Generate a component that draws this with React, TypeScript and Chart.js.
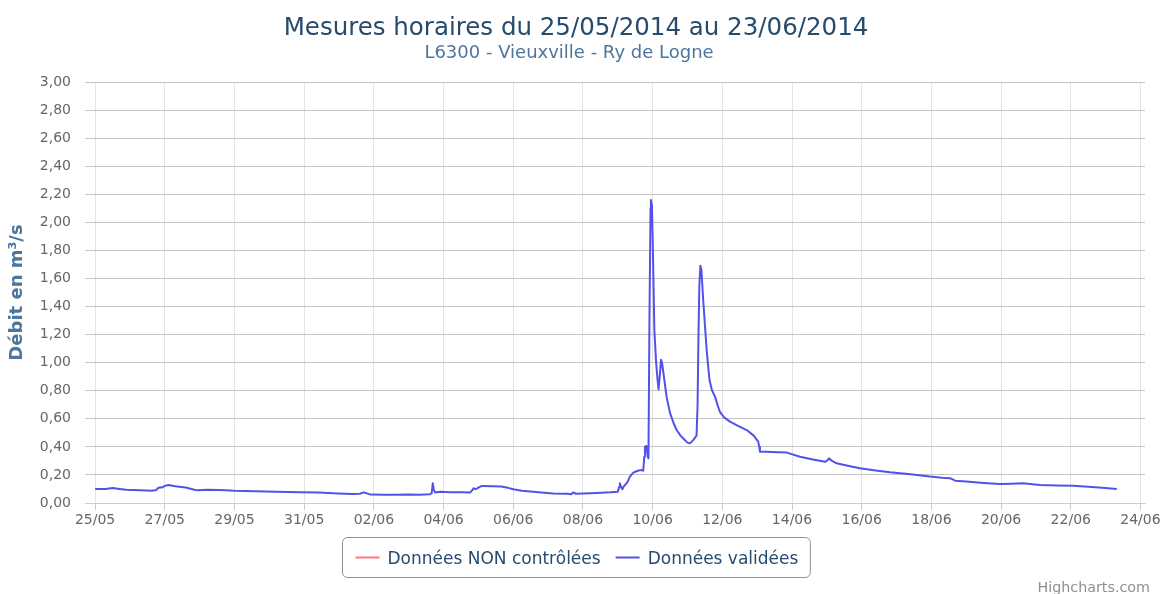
import React, { useEffect, useRef } from 'react';
import { Chart, registerables } from 'chart.js';

Chart.register(...registerables);

const FONT = '"DejaVu Sans", Verdana, sans-serif';

const TITLE = 'Mesures horaires du 25/05/2014 au 23/06/2014';
const SUBTITLE = 'L6300 - Vieuxville - Ry de Logne';
const Y_TITLE = 'Débit en m³/s';
const CREDIT = 'Highcharts.com';

const SERIES_NAMES = ['Données NON contrôlées', 'Données validées'];
const SERIES_COLORS = ['#ff7a7a', '#5252ea'];

// x tick positions (days since 25/05/2014 00:00) and their labels
const X_TICK_DAYS = [0, 2, 4, 6, 8, 10, 12, 14, 16, 18, 20, 22, 24, 26, 28, 30];
const X_TICK_LABELS = [
  '25/05', '27/05', '29/05', '31/05', '02/06', '04/06', '06/06', '08/06',
  '10/06', '12/06', '14/06', '16/06', '18/06', '20/06', '22/06', '24/06',
];

// "Données NON contrôlées": no values visible in the period
const nonControleTimes: number[] = [];
const nonControleValues: number[] = [];

// "Données validées": time in days since 25/05/2014 00:00, debit in m3/s
const valideTimes = [
  0.0, 0.3, 0.5, 0.7, 0.9, 1.3, 1.63, 1.75, 1.8, 1.86, 1.92, 2.0, 2.1, 2.3, 2.6, 2.85, 2.95,
  3.2, 3.6, 4.0, 4.6, 5.2, 5.9, 6.4, 6.97, 7.4, 7.6, 7.7, 7.78, 7.9, 8.3,
  8.6, 9.0, 9.3, 9.6, 9.66, 9.69, 9.72, 9.76, 9.9, 10.2, 10.5, 10.76, 10.82, 10.86, 10.92,
  11.0, 11.1, 11.4, 11.65, 11.85, 12.0, 12.25, 12.5, 12.8, 13.14, 13.55, 13.66, 13.72, 13.8,
  14.0, 14.4, 14.78, 15.0, 15.04, 15.06, 15.1, 15.13, 15.17, 15.21, 15.28, 15.35, 15.42,
  15.5, 15.6, 15.69, 15.73, 15.76, 15.78, 15.81, 15.83, 15.86, 15.88, 15.91, 15.94, 15.95,
  15.98, 16.0, 16.05, 16.1, 16.14, 16.17, 16.21, 16.24, 16.27, 16.31, 16.4, 16.5, 16.6,
  16.69, 16.8, 16.88, 17.0, 17.07, 17.17, 17.26, 17.29, 17.31, 17.34, 17.37, 17.4, 17.45,
  17.55, 17.63, 17.7, 17.79, 17.86, 17.93, 18.05, 18.22, 18.45, 18.7, 18.9, 19.03, 19.06,
  19.08, 19.27, 19.6, 19.85, 20.23, 20.6, 20.95, 21.0, 21.06, 21.15, 21.28, 21.6, 21.95,
  22.4, 22.81, 23.4, 23.96, 24.3, 24.53, 24.6, 24.68, 25.0, 25.5, 25.97, 26.3, 26.64,
  26.9, 27.12, 27.6, 28.07, 28.5, 28.9, 29.32,
];
const valideValues = [
  0.1, 0.1, 0.107, 0.1, 0.094, 0.09, 0.087, 0.092, 0.105, 0.112, 0.11, 0.122, 0.128, 0.12, 0.11, 0.095, 0.09,
  0.095, 0.092, 0.087, 0.084, 0.08, 0.077, 0.074, 0.068, 0.065, 0.066, 0.076, 0.07, 0.06, 0.059,
  0.058, 0.06, 0.059, 0.062, 0.07, 0.14, 0.095, 0.075, 0.08, 0.077, 0.076, 0.074, 0.09, 0.105, 0.098,
  0.11, 0.122, 0.12, 0.117, 0.108, 0.098, 0.088, 0.082, 0.075, 0.068, 0.066, 0.062, 0.075, 0.066,
  0.068, 0.072, 0.076, 0.08, 0.115, 0.14, 0.11, 0.098, 0.118, 0.128, 0.15, 0.188, 0.21,
  0.223, 0.232, 0.235, 0.23, 0.33, 0.4, 0.405, 0.39, 0.33, 0.318, 1.35, 2.1, 2.16,
  2.12, 1.9, 1.23, 1.0, 0.88, 0.81, 0.92, 1.02, 1.0, 0.925, 0.758, 0.64, 0.57,
  0.52, 0.48, 0.46, 0.43, 0.425, 0.45, 0.48, 0.7, 1.1, 1.55, 1.69, 1.66, 1.45,
  1.09, 0.88, 0.805, 0.758, 0.7, 0.65, 0.61, 0.58, 0.55, 0.52, 0.48, 0.437, 0.4,
  0.366, 0.366, 0.362, 0.359, 0.33, 0.31, 0.294, 0.3, 0.318, 0.3, 0.283, 0.265, 0.247,
  0.232, 0.219, 0.205, 0.188, 0.18, 0.176, 0.17, 0.159, 0.153, 0.143, 0.135, 0.137, 0.14,
  0.133, 0.128, 0.125, 0.123, 0.115, 0.108, 0.1,
];

const decorPlugin = {
  id: 'decor',
  afterDraw(chart: any) {
    const ctx = chart.ctx as CanvasRenderingContext2D;
    ctx.save();
    // title & subtitle
    ctx.textAlign = 'center';
    ctx.textBaseline = 'alphabetic';
    ctx.fillStyle = '#274b6d';
    ctx.font = `24.5px ${FONT}`;
    ctx.fillText(TITLE, 576, 35);
    ctx.fillStyle = '#4d759e';
    ctx.font = `18px ${FONT}`;
    ctx.fillText(SUBTITLE, 569, 58);

    // legend
    ctx.font = `17px ${FONT}`;
    const w1 = ctx.measureText(SERIES_NAMES[0]).width;
    const w2 = ctx.measureText(SERIES_NAMES[1]).width;
    const padL = 13, lineW = 24, gap = 8, itemGap = 15, padR = 12;
    const total = padL + lineW + gap + w1 + itemGap + lineW + gap + w2 + padR;
    const cx = 575.5;
    const left = Math.round(cx - total / 2) + 0.5;
    const top = 537.5, h = 40;
    ctx.strokeStyle = '#909090';
    ctx.lineWidth = 1;
    ctx.beginPath();
    (ctx as any).roundRect(left, top, total, h, 5);
    ctx.stroke();
    const cy = top + h / 2;
    let x = left + padL;
    const items = [w1, w2];
    for (let i = 0; i < 2; i++) {
      ctx.strokeStyle = SERIES_COLORS[i];
      ctx.lineWidth = 2;
      ctx.beginPath();
      ctx.moveTo(x, cy);
      ctx.lineTo(x + lineW, cy);
      ctx.stroke();
      x += lineW + gap;
      ctx.fillStyle = '#274b6d';
      ctx.textAlign = 'left';
      ctx.fillText(SERIES_NAMES[i], x, cy + 6);
      x += items[i] + itemGap;
    }

    // credit
    ctx.textAlign = 'right';
    ctx.fillStyle = '#909090';
    ctx.font = `14.3px ${FONT}`;
    ctx.fillText(CREDIT, 1150, 592);
    ctx.restore();
  },
};

export default function App() {
  const canvasRef = useRef<HTMLCanvasElement | null>(null);

  useEffect(() => {
    document.body.style.margin = '0';
    const canvas = canvasRef.current;
    if (!canvas) return;
    const chart = new Chart(canvas, {
      type: 'line',
      data: {
        datasets: [
          {
            label: SERIES_NAMES[0],
            data: nonControleTimes.map((t, i) => ({ x: t, y: nonControleValues[i] })),
            borderColor: SERIES_COLORS[0],
            backgroundColor: SERIES_COLORS[0],
            borderWidth: 2,
            pointRadius: 0,
          },
          {
            label: SERIES_NAMES[1],
            data: valideTimes.map((t, i) => ({ x: t, y: valideValues[i] })),
            borderColor: SERIES_COLORS[1],
            backgroundColor: SERIES_COLORS[1],
            borderWidth: 2,
            pointRadius: 0,
            tension: 0,
            borderJoinStyle: 'round',
          },
        ],
      },
      options: {
        responsive: false,
        animation: false,
        layout: { padding: { left: 0, top: 82, right: 19, bottom: 51 } },
        plugins: {
          legend: { display: false },
          title: { display: false },
          tooltip: { enabled: false },
        },
        scales: {
          x: {
            type: 'linear',
            min: -0.29,
            max: 30.13,
            afterBuildTicks: (s: any) => {
              s.ticks = X_TICK_DAYS.map((v) => ({ value: v }));
            },
            afterFit: (s: any) => {
              s.height = 40;
            },
            ticks: {
              autoSkip: false,
              maxRotation: 0,
              padding: 2,
              color: '#666666',
              font: { family: FONT, size: 14 },
              callback: (v: any) => {
                const i = X_TICK_DAYS.indexOf(Number(v));
                return i >= 0 ? X_TICK_LABELS[i] : '';
              },
            },
            grid: { color: '#e4e4e4', tickColor: '#C0D0E0', tickLength: 7 },
            border: { color: '#C0D0E0', width: 1 },
          },
          y: {
            min: 0,
            max: 3,
            afterFit: (s: any) => {
              s.width = 85;
            },
            ticks: {
              stepSize: 0.2,
              padding: 14,
              color: '#666666',
              font: { family: FONT, size: 14 },
              callback: (v: any) => Number(v).toFixed(2).replace('.', ','),
            },
            grid: { color: '#c6c6c6', drawTicks: false },
            border: { display: false },
            title: {
              display: true,
              text: Y_TITLE,
              color: '#4d759e',
              font: { family: FONT, size: 18, weight: 'bold' },
              padding: { top: 7, bottom: 0 },
            },
          },
        },
      },
      plugins: [decorPlugin],
    } as any);
    return () => chart.destroy();
  }, []);

  return (
    <div style={{ width: 1164, height: 594 }}>
      <canvas ref={canvasRef} width={1164} height={594} style={{ display: 'block' }} />
    </div>
  );
}
